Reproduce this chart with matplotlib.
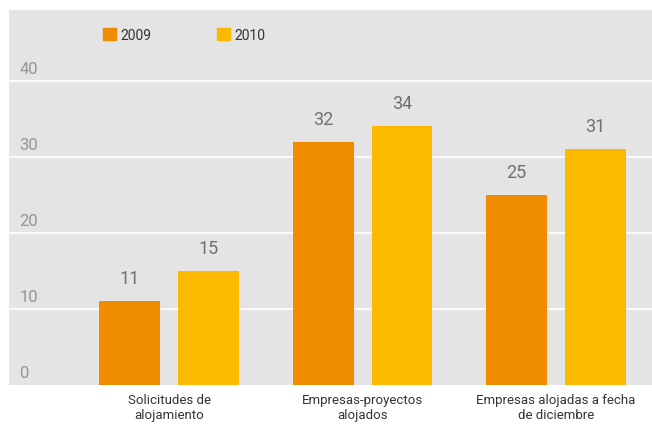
import matplotlib
matplotlib.use("Agg")
import matplotlib.pyplot as plt
import numpy as np
from matplotlib.patches import Patch

plt.rcParams['font.family'] = ['Roboto', 'DejaVu Sans']

categories = ["Solicitudes de\nalojamiento", "Empresas-proyectos\nalojados",
              "Empresas alojadas a fecha\nde diciembre"]
series_names = ["2009", "2010"]
values_2009 = [11, 32, 25]
values_2010 = [15, 34, 31]
yticks = [0, 10, 20, 30, 40]

c2009 = "#F08C00"
c2010 = "#FBBA00"
bg = "#E3E4E3"

fig = plt.figure(figsize=(6.52, 4.27), dpi=100)
ax = fig.add_axes([9/652, 41/427, 1 - 9/652, (386 - 11)/427])
ax.set_facecolor(bg)

x = np.arange(len(categories))
w = 0.315
off = 0.204
ax.bar(x - off, values_2009, w, color=c2009, zorder=3)
ax.bar(x + off, values_2010, w, color=c2010, zorder=3)

for xi, v in zip(x - off, values_2009):
    ax.annotate(str(v), (xi, v), xytext=(0, 10), textcoords="offset points",
                ha="center", va="bottom", fontsize=13, color="#707070")
for xi, v in zip(x + off, values_2010):
    ax.annotate(str(v), (xi, v), xytext=(0, 10), textcoords="offset points",
                ha="center", va="bottom", fontsize=13, color="#707070")

ax.set_xlim(-0.827, 2.496)
ax.set_ylim(0, 49.3)
for t in yticks[1:]:
    ax.axhline(t, color="white", lw=1.2, zorder=1)
for t in yticks:
    ax.text(0.016, t + 0.6, str(t), transform=ax.get_yaxis_transform(),
            ha="left", va="bottom", fontsize=12, color="#959595")

ax.set_yticks([])
ax.set_xticks(x)
ax.set_xticklabels(categories, fontsize=9.5, color="#333333", linespacing=1.2)
ax.tick_params(axis="x", length=0, pad=6)
for s in ax.spines.values():
    s.set_visible(False)

handles = [Patch(color=c2009, label=series_names[0]),
           Patch(color=c2010, label=series_names[1])]
leg = ax.legend(handles=handles, loc="upper left", bbox_to_anchor=(0.127, 0.985),
                ncol=2, frameon=False, fontsize=10, handlelength=0.95, handleheight=0.95,
                handletextpad=0.3, columnspacing=4.7)
for t in leg.get_texts():
    t.set_color("#333333")

fig.savefig("out.png", dpi=100)
